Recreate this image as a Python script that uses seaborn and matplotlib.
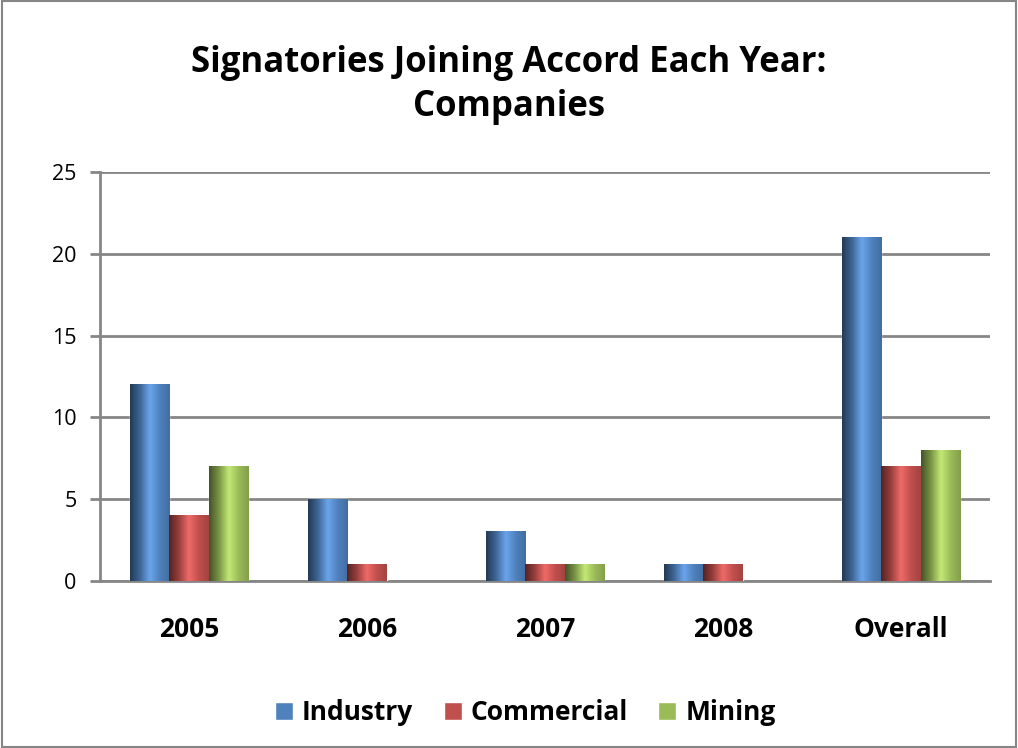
import numpy as np
import pandas as pd
import matplotlib
matplotlib.use("Agg")
import matplotlib.pyplot as plt
import seaborn as sns
from matplotlib.colors import LinearSegmentedColormap, to_rgb
from matplotlib.patches import Patch

categories = ["2005", "2006", "2007", "2008", "Overall"]
industry = [12, 5, 3, 1, 21]
commercial = [4, 1, 1, 1, 7]
mining = [7, 0, 1, 0, 8]
series_names = ["Industry", "Commercial", "Mining"]
colors = ["#4F81BD", "#C0504D", "#9BBB59"]
title = "Signatories Joining Accord Each Year:\nCompanies"

df = pd.DataFrame({
    "Year": categories * 3,
    "Series": [s for s in series_names for _ in categories],
    "Value": industry + commercial + mining,
})

sns.set_style("white", {"text.color": "black", "xtick.color": "black", "ytick.color": "black"})
plt.rcParams["font.family"] = ["Open Sans", "DejaVu Sans"]
plt.rcParams["text.color"] = "black"

fig = plt.figure(figsize=(10.18, 7.48), dpi=100)
ax = fig.add_axes([100/1018, 1-581/748, 890/1018, 409/748])

sns.barplot(data=df, x="Year", y="Value", hue="Series", palette=colors,
            width=0.66, ax=ax, legend=False, saturation=1, zorder=3)

def shade(c):
    r = np.array(to_rgb(c))
    dark = r * 0.45
    light = np.clip(r * 1.18 + 0.05, 0, 1)
    mid = r * 0.85
    return LinearSegmentedColormap.from_list("s", [dark, r*0.8, light, r, mid])

grad = np.linspace(0, 1, 64).reshape(1, -1)
n = len(categories)
for i, p in enumerate(ax.patches):
    h = p.get_height()
    if h <= 0:
        p.set_visible(False)
        continue
    x0 = p.get_x(); w = p.get_width()
    ax.imshow(grad, extent=[x0, x0 + w, 0, h], aspect="auto", cmap=shade(colors[i // n]),
              zorder=3.5, interpolation="bicubic")
ax.set_xlim(-0.5, n - 0.5)
ax.set_ylim(0, 25)
ax.set_yticks([0, 5, 10, 15, 20, 25])
ax.yaxis.grid(True, color="#868686", linewidth=2, zorder=1)
ax.set_axisbelow(True)
ax.set_xlabel("")
ax.set_ylabel("")

for s in ["top", "right"]:
    ax.spines[s].set_visible(False)
for s in ["left", "bottom"]:
    ax.spines[s].set_color("#868686")
    ax.spines[s].set_linewidth(2)

ax.set_xticks(np.arange(-0.5, n, 1.0), minor=True)
ax.tick_params(axis="x", which="major", length=0, pad=25, labelsize=19, labelcolor="black")
ax.tick_params(axis="x", which="minor", length=7, width=2, color="#868686", direction="out")
ax.tick_params(axis="y", length=7, width=2, color="#868686", labelsize=15.5, pad=10, left=True,
               labelcolor="black")
for lab in ax.get_xticklabels():
    lab.set_fontweight("bold")

fig.suptitle(title, y=1-45/748, va="top", fontsize=25, fontweight="bold", linespacing=1.3,
             color="black")

handles = [Patch(facecolor=c) for c in colors]
leg = fig.legend(handles, series_names, loc="center", bbox_to_anchor=(0.516, 1-713/748),
                 ncol=3, frameon=False, handlelength=0.68, handleheight=0.68,
                 columnspacing=1.15, handletextpad=0.34, prop={"size": 19, "weight": "bold"})
for t in leg.get_texts():
    t.set_color("black")

fig.patches.append(plt.Rectangle((0.002, 0.002), 0.996, 0.996, transform=fig.transFigure,
                                 fill=False, edgecolor="#868686", linewidth=1.5))
fig.savefig("out.png", dpi=100)
